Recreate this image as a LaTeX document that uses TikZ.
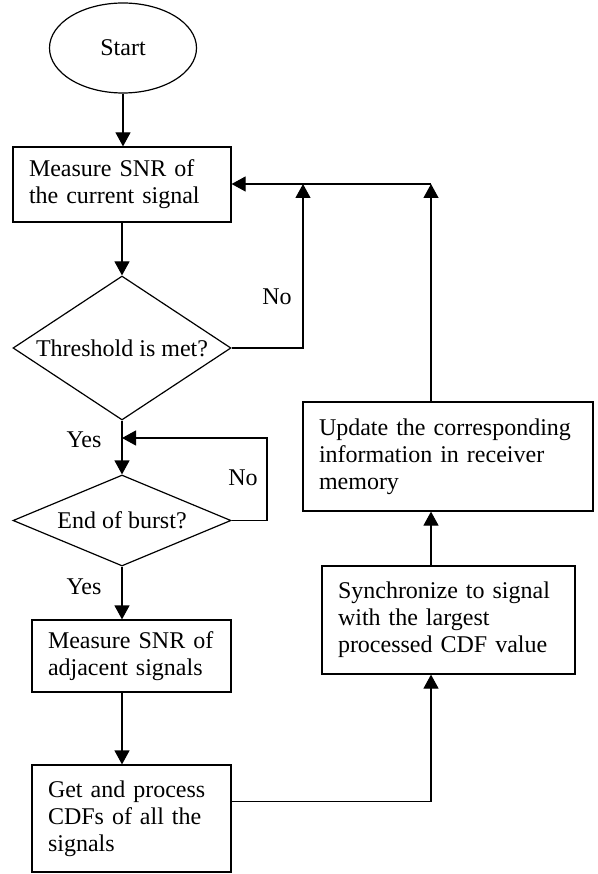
\documentclass[tikz,border=0pt]{standalone}
\usepackage{fontspec}
\setmainfont{Liberation Serif}
\usetikzlibrary{shapes.geometric, arrows.meta}

\tikzset{
	arr/.style = {line width=1.2pt, -{Triangle[width=15pt,length=14pt]}},
	procbox/.style = {draw, line width=1.2pt, rectangle, inner xsep=16pt, inner ysep=0pt, align=left},
	decision/.style = {draw, line width=1.2pt, diamond, inner sep=0pt},
	terminal/.style = {draw, line width=1.2pt, ellipse, minimum width=147pt, minimum height=90pt}
}

\begin{document}
\begin{tikzpicture}[x=1pt, y=-1pt, font=\fontsize{24}{27}\selectfont]
	\useasboundingbox (0,0) rectangle (597,874);
	% Left column
	\node[terminal] (start) at (123,48) {Start};
	\node[procbox, text width=186pt, minimum height=75pt] (measure) at (122,184.5) {Measure SNR of\\the current signal};
	\node[decision, aspect=1.5, minimum width=218pt, minimum height=144pt] (threshold) at (122,348) {Threshold is met?};
	\node[decision, aspect=2.4, minimum width=218pt, minimum height=91pt] (burst) at (122,520.5) {End of burst?};
	\node[procbox, text width=167pt, minimum height=72pt] (adjacent) at (131.5,656) {Measure SNR of\\adjacent signals};
	\node[procbox, text width=167pt, minimum height=107pt] (cdf) at (131.5,818.5) {Get and process\\CDFs of all the\\signals};
	% Right column
	\node[procbox, text width=221pt, minimum height=108pt] (sync) at (448.5,620) {Synchronize to signal\\with the largest\\processed CDF value};
	\node[procbox, text width=258pt, minimum height=109pt] (update) at (448,456.5) {Update the corresponding\\information in receiver\\memory};

	% Labels
	\node (no1) at (277,297) {No};
	\node (yes1) at (84,440) {Yes};
	\node (no2) at (243,478) {No};
	\node (yes2) at (84,587) {Yes};

	% Loop points
	\coordinate (loopA) at (303,184);
	\coordinate (loopB) at (431,184);
	\coordinate (noright) at (267,438);
	\coordinate (yesin) at (122,438);

	% Connectors
	\draw[arr] (start.south) -- (start.south |- measure.north);
	\draw[arr] (measure.south) -- (threshold.north);
	\draw[arr] (threshold.south) -- (burst.north);
	\draw[arr] (burst.south) -- (burst.south |- adjacent.north);
	\draw[arr] (adjacent.south -| burst.south) -- (cdf.north -| burst.south);
	\draw[arr] (threshold.east) -| (loopA);
	\draw[arr] (loopB) -- (loopB -| measure.east);
	\draw[arr] (update.north -| loopB) -- (loopB);
	\draw[arr] (burst.east) -| (noright) -- (yesin);
	\draw[arr] ([yshift=17pt]cdf.east) -| (sync.south -| loopB);
	\draw[arr] (sync.north -| loopB) -- (update.south -| loopB);
\end{tikzpicture}
\end{document}
